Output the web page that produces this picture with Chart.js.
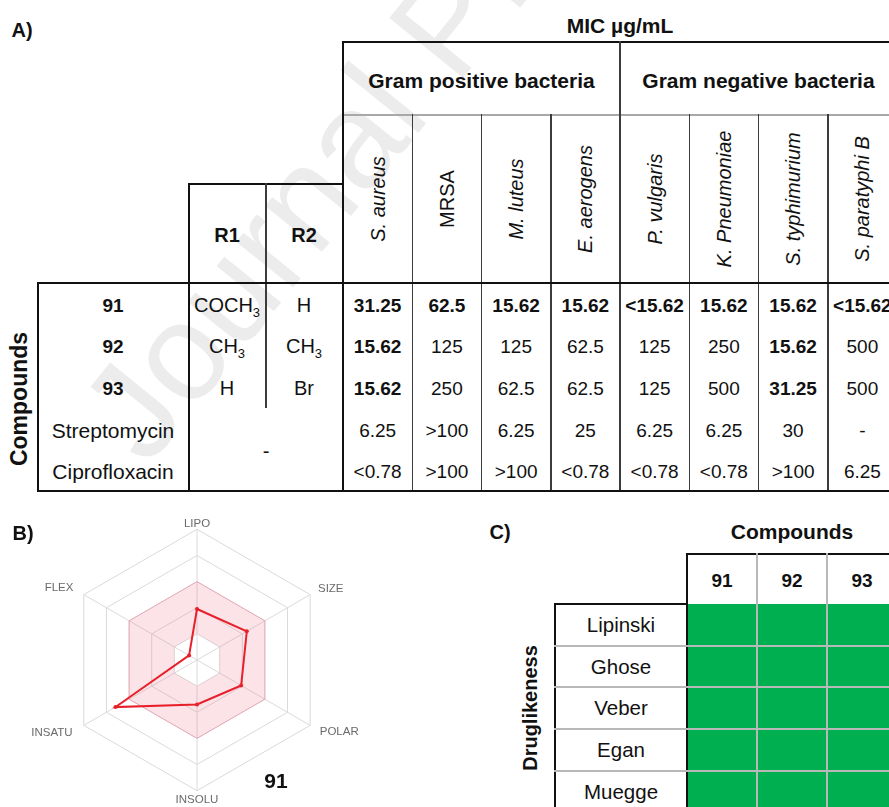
<!DOCTYPE html>
<html>
<head>
<meta charset="utf-8">
<script src="https://cdn.jsdelivr.net/npm/chart.js@4.4.1/dist/chart.umd.min.js"></script>
<style>
  html, body { margin: 0; padding: 0; background: #fff; }
  #fig { position: relative; width: 889px; height: 807px; overflow: hidden; background: #fff;
         font-family: 'Liberation Sans', Arial, sans-serif; color: #111; }
  .t { position: absolute; white-space: nowrap; line-height: 1; z-index: 3; }
  .ln { position: absolute; z-index: 4; }
  .cell { position: absolute; z-index: 2; }
  sub { font-size: 13px; vertical-align: 0; position: relative; top: 5px; }
  #wm { position: absolute; left: 147px; top: 468px; font-size: 138px; line-height: 138px;
        color: #ececec; white-space: nowrap; transform-origin: 0 0;
        transform: rotate(-51deg) translate(0, -117px); z-index: 1; }
  #radarBox { position: absolute; left: 0; top: 512px; width: 394px; height: 302px; z-index: 2; }
</style>
</head>
<body>
<div id="fig">
  <div id="wm">Journal Pre-proof</div>
  <div id="radarBox"><canvas id="chart" width="394" height="302"></canvas></div>
</div>
<script>
// ---- panel A data ----
const species = ['S. aureus', 'MRSA', 'M. luteus', 'E. aerogens', 'P. vulgaris', 'K. Pneumoniae', 'S. typhimurium', 'S. paratyphi B'];
const speciesItalic = [true, false, true, true, true, true, true, true];
const compounds = ['91', '92', '93', 'Streptomycin', 'Ciprofloxacin'];
const compoundBold = [true, true, true, false, false];
const r1 = ['COCH<sub>3</sub>', 'CH<sub>3</sub>', 'H'];
const r2 = ['H', 'CH<sub>3</sub>', 'Br'];
const mic91 = ['31.25', '62.5', '15.62', '15.62', '&lt;15.62', '15.62', '15.62', '&lt;15.62'];
const mic92 = ['15.62', '125', '125', '62.5', '125', '250', '15.62', '500'];
const mic93 = ['15.62', '250', '62.5', '62.5', '125', '500', '31.25', '500'];
const micStrep = ['6.25', '&gt;100', '6.25', '25', '6.25', '6.25', '30', '-'];
const micCipro = ['&lt;0.78', '&gt;100', '&gt;100', '&lt;0.78', '&lt;0.78', '&lt;0.78', '&gt;100', '6.25'];
const bold91 = [1, 1, 1, 1, 1, 1, 1, 1];
const bold92 = [1, 0, 0, 0, 0, 0, 1, 0];
const bold93 = [1, 0, 0, 0, 0, 0, 1, 0];

// ---- panel B data ----
const radarAxes = ['LIPO', 'SIZE', 'POLAR', 'INSOLU', 'INSATU', 'FLEX'];
const compound91 = [1.95, 2.2, 1.95, 1.7, 3.6, 0.35];
const optimalHigh = [3, 3, 3, 3, 3, 3];
const optimalLow = [1, 1, 1, 1, 1, 1];

// ---- panel C data ----
const drugRules = ['Lipinski', 'Ghose', 'Veber', 'Egan', 'Muegge'];
const drugCompounds = ['91', '92', '93'];
const drugPass = [
  [1, 1, 1],
  [1, 1, 1],
  [1, 1, 1],
  [1, 1, 1],
  [1, 1, 1]
];

const fig = document.getElementById('fig');

function txt(html, cx, cy, css, rot) {
  const d = document.createElement('div');
  d.className = 't';
  d.innerHTML = html;
  d.style.cssText += css || '';
  d.style.left = cx + 'px';
  d.style.top = cy + 'px';
  d.style.transform = 'translate(-50%,-50%)' + (rot ? ' rotate(' + rot + 'deg)' : '');
  fig.appendChild(d);
  return d;
}
function hline(x1, x2, y, w, c) {
  const d = document.createElement('div');
  d.className = 'ln';
  d.style.cssText = `left:${x1 - w / 2}px;top:${y - w / 2}px;width:${x2 - x1 + w}px;height:${w}px;background:${c};`;
  fig.appendChild(d);
}
function vline(x, y1, y2, w, c) {
  const d = document.createElement('div');
  d.className = 'ln';
  d.style.cssText = `left:${x - w / 2}px;top:${y1 - w / 2}px;width:${w}px;height:${y2 - y1 + w}px;background:${c};`;
  fig.appendChild(d);
}
function cell(x, y, w, h, c) {
  const d = document.createElement('div');
  d.className = 'cell';
  d.style.cssText = `left:${x}px;top:${y}px;width:${w}px;height:${h}px;background:${c};`;
  fig.appendChild(d);
}

const BLACK = '#111';
const DARK = '#3c3c3c';
const LIGHT = '#b8b8b8';

// ===== Panel A =====
txt('A)', 22, 30, 'font-weight:bold;font-size:20px;');
txt('MIC µg/mL', 620, 25, 'font-weight:bold;font-size:21px;');

const colW = 69.25, col0 = 343;
const colEdge = [];
for (let k = 0; k <= species.length; k++) colEdge.push(col0 + k * colW);
const colMid = k => col0 + (k + 0.5) * colW;

txt('Gram positive bacteria', (colEdge[0] + colEdge[4]) / 2, 80, 'font-weight:bold;font-size:21px;');
txt('Gram negative bacteria', (colEdge[4] + colEdge[8]) / 2, 80, 'font-weight:bold;font-size:21px;');

species.forEach((s, k) => {
  txt(s, colMid(k), 199, 'font-size:20px;' + (speciesItalic[k] ? 'font-style:italic;' : ''), -90);
});

txt('R1', 227, 235, 'font-weight:bold;font-size:20px;');
txt('R2', 304, 235, 'font-weight:bold;font-size:20px;');

const rowMid = i => 283 + 21.5 + i * 41.7;
const micRows = [mic91, mic92, mic93, micStrep, micCipro];
const boldRows = [bold91, bold92, bold93, null, null];

compounds.forEach((c, i) => {
  txt(c, 113, rowMid(i), (compoundBold[i] ? 'font-weight:bold;font-size:19px;' : 'font-size:21px;'));
  if (i < 3) {
    txt(r1[i], 227, rowMid(i), 'font-size:20px;');
    txt(r2[i], 304, rowMid(i), 'font-size:20px;');
  }
  micRows[i].forEach((v, k) => {
    const b = boldRows[i] && boldRows[i][k];
    txt(v, colMid(k), rowMid(i), 'font-size:19px;' + (b ? 'font-weight:bold;' : ''));
  });
});
txt('-', 266, 451, 'font-size:20px;');
txt('Compounds', 19, 399, 'font-weight:bold;font-size:23px;', -90);

// lines
hline(343, 889, 42, 2, BLACK);
hline(343, 889, 115, 2, '#a8a8a8');
vline(343, 42, 491, 2, BLACK);
vline(colEdge[4], 42, 491, 1.5, DARK);
for (let k = 1; k < species.length; k++) if (k !== 4) vline(colEdge[k], 115, 491, 1.5, DARK);
hline(189, 343, 184, 2, BLACK);
vline(189, 184, 491, 2, BLACK);
vline(266, 184, 407, 1.5, DARK);
hline(38, 889, 283, 2, BLACK);
vline(38, 283, 491, 2, BLACK);
hline(38, 889, 491, 2, BLACK);

// ===== Panel B =====
txt('B)', 23, 533, 'font-weight:bold;font-size:20px;');
txt('91', 276, 780, 'font-weight:bold;font-size:21px;');

const labelPad = [4, 9, 11, 8, 13, 12];

const config = {
  type: 'radar',
  data: {
    labels: radarAxes,
    datasets: [
      {
        label: '91',
        data: compound91,
        borderColor: '#e8202a',
        backgroundColor: '#e8202a',
        borderWidth: 2,
        pointRadius: 2,
        pointBackgroundColor: '#e8202a',
        pointBorderWidth: 0,
        fill: false
      },
      {
        label: 'optimal',
        data: optimalHigh,
        borderColor: 'rgba(235,140,165,0.55)',
        borderWidth: 1,
        backgroundColor: 'rgba(240,100,130,0.18)',
        pointRadius: 0,
        fill: '+1'
      },
      {
        label: 'inner',
        data: optimalLow,
        borderColor: 'rgba(0,0,0,0)',
        borderWidth: 0,
        pointRadius: 0,
        fill: false
      }
    ]
  },
  options: {
    responsive: false,
    animation: false,
    devicePixelRatio: 1,
    layout: { padding: { top: 10, bottom: 10 } },
    plugins: {
      legend: { display: false },
      tooltip: { enabled: false }
    },
    scales: {
      r: {
        min: 0,
        max: 5,
        ticks: { display: false, stepSize: 1 },
        grid: { color: '#dadada', lineWidth: 1 },
        angleLines: { color: '#dadada', lineWidth: 1 },
        pointLabels: {
          color: '#6a6a6a',
          font: { family: "'Liberation Sans', Arial, sans-serif", size: 11.5, lineHeight: 0.2 },
          padding: ctx => labelPad[ctx.index]
        }
      }
    }
  }
};

var chart = new Chart(document.getElementById('chart'), config);

// ===== Panel C =====
txt('C)', 500, 532, 'font-weight:bold;font-size:20px;');
txt('Compounds', 792, 531, 'font-weight:bold;font-size:21px;');
txt('Druglikeness', 530, 708, 'font-weight:bold;font-size:20px;', -90);

const cCol0 = 687, cColW = 70, cRow0 = 604, cRowH = 41.7;
drugCompounds.forEach((c, j) => {
  txt(c, cCol0 + (j + 0.5) * cColW, 580, 'font-weight:bold;font-size:19px;');
});
drugRules.forEach((r, i) => {
  txt(r, 621, cRow0 + (i + 0.5) * cRowH, 'font-size:20.5px;');
  drugPass[i].forEach((p, j) => {
    cell(cCol0 + j * cColW, cRow0 + i * cRowH, cColW + 0.5, cRowH + 0.5, p ? '#00b050' : '#ff0000');
  });
});
hline(687, 889, 554, 2, BLACK);
vline(687, 554, 810, 2, BLACK);
for (let j = 1; j < drugCompounds.length; j++) vline(cCol0 + j * cColW, 554, 810, 2, LIGHT);
hline(555, 687, 604, 2, BLACK);
vline(555, 604, 810, 2, BLACK);
for (let i = 1; i < drugRules.length; i++) hline(555, 889, cRow0 + i * cRowH, 2, LIGHT);
</script>
</body>
</html>
